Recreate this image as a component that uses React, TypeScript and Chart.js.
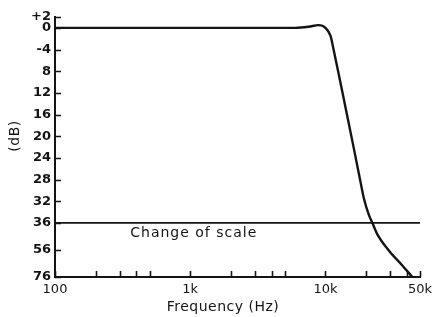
import { useEffect, useRef } from 'react';
import { Chart, registerables } from 'chart.js';

Chart.register(...registerables);

// ---- data ----
const FREQ_HZ = [100, 1000, 3000, 6000, 7500, 8900, 10000, 10900, 11500, 12900, 14550, 16400, 18150, 19200, 20900, 22200, 24200, 29500, 37000, 43900];
const ATTEN_DB = [0, 0, 0, 0, -0.2, -0.5, 0, 1.5, 4.1, 10.1, 16.5, 22.9, 28.4, 31.4, 34.5, 36, 44.5, 56.6, 67.5, 76];

const BREAK_FREQ_HZ = [100, 50000];
const BREAK_DB = [36, 36];

const Y_TICK_DB = [-2, 0, 4, 8, 12, 16, 20, 24, 28, 32, 36, 56, 76];
const Y_TICK_LABELS = ['+2', '0', '-4', '8', '12', '16', '20', '24', '28', '32', '36', '56', '76'];

const X_TICK_HZ = [100, 1000, 10000, 50000];
const X_TICK_LABELS = ['100', '1k', '10k', '50k'];
const X_MINOR_HZ = [200, 300, 400, 500, 2000, 3000, 4000, 5000, 20000, 30000, 40000];

const CHANGE_LABEL = 'Change of scale';
const CHANGE_LABEL_HZ = 360;
const CHANGE_LABEL_DB = 44;

const X_TITLE = 'Frequency (Hz)';
const Y_TITLE = '(dB)';

const BREAK_AT = 36;
const COMPRESS = 0.25; // below the break, 20 dB occupy 5 units

const INK = '#141414';
const FONT = '"DejaVu Sans", sans-serif';

function toAxis(db: number): number {
  return db <= BREAK_AT ? db : BREAK_AT + (db - BREAK_AT) * COMPRESS;
}

const decorPlugin = {
  id: 'decor',
  beforeDraw(chart: any) {
    const { ctx, width, height } = chart;
    ctx.save();
    ctx.fillStyle = '#ffffff';
    ctx.fillRect(0, 0, width, height);
    ctx.restore();
  },
  afterDraw(chart: any) {
    const { ctx, chartArea } = chart;
    const xs = chart.scales.x;
    const ys = chart.scales.y;
    ctx.save();
    ctx.strokeStyle = INK;
    ctx.lineWidth = 1.6;
    ctx.beginPath();
    for (const d of Y_TICK_DB) {
      const py = Math.round(ys.getPixelForValue(toAxis(d))) + 0.5;
      ctx.moveTo(chartArea.left, py);
      ctx.lineTo(chartArea.left + 6, py);
    }
    for (const f of [...X_TICK_HZ, ...X_MINOR_HZ]) {
      const px = Math.round(xs.getPixelForValue(f)) + 0.5;
      ctx.moveTo(px, chartArea.bottom);
      ctx.lineTo(px, chartArea.bottom - 6);
    }
    ctx.stroke();

    ctx.fillStyle = INK;
    ctx.textBaseline = 'middle';
    ctx.textAlign = 'left';
    ctx.font = `14px ${FONT}`;
    (ctx as any).letterSpacing = '1px';
    ctx.fillText(CHANGE_LABEL, xs.getPixelForValue(CHANGE_LABEL_HZ), ys.getPixelForValue(toAxis(CHANGE_LABEL_DB)));

    ctx.textAlign = 'center';
    (ctx as any).letterSpacing = '0.5px';
    ctx.fillText(X_TITLE, chartArea.left + 168, chart.height - 10);

    ctx.translate(15, chartArea.top + 119);
    ctx.rotate(-Math.PI / 2);
    ctx.fillText(Y_TITLE, 0, 0);
    ctx.restore();
  },
};

export default function App() {
  const canvasRef = useRef<HTMLCanvasElement | null>(null);

  useEffect(() => {
    const canvas = canvasRef.current;
    if (!canvas) return;
    const curve = FREQ_HZ.map((f, i) => ({ x: f, y: toAxis(ATTEN_DB[i]) }));
    const breakLine = BREAK_FREQ_HZ.map((f, i) => ({ x: f, y: toAxis(BREAK_DB[i]) }));

    const chart = new Chart(canvas, {
      type: 'line',
      data: {
        datasets: [
          {
            data: curve,
            borderColor: INK,
            borderWidth: 2.4,
            pointRadius: 0,
            cubicInterpolationMode: 'monotone',
            fill: false,
          },
          {
            data: breakLine,
            borderColor: INK,
            borderWidth: 1.6,
            pointRadius: 0,
            fill: false,
          },
        ],
      },
      plugins: [decorPlugin],
      options: {
        responsive: false,
        animation: false,
        devicePixelRatio: 1,
        layout: { padding: { top: 17, right: 19, left: 0, bottom: 0 } },
        plugins: { legend: { display: false }, tooltip: { enabled: false } },
        scales: {
          x: {
            type: 'logarithmic',
            min: 100,
            max: 50000,
            afterBuildTicks: (s: any) => {
              s.ticks = X_TICK_HZ.map((v) => ({ value: v }));
            },
            afterFit: (s: any) => {
              s.height = 40;
            },
            grid: { display: false, drawTicks: false },
            border: { display: true, color: INK, width: 2 },
            ticks: {
              autoSkip: false,
              maxRotation: 0,
              padding: 5,
              color: INK,
              font: { family: FONT, size: 13 },
              callback: (_v: any, i: number) => X_TICK_LABELS[i],
            },
          },
          y: {
            type: 'linear',
            reverse: true,
            min: toAxis(-2),
            max: toAxis(76),
            afterBuildTicks: (s: any) => {
              s.ticks = Y_TICK_DB.map((d) => ({ value: toAxis(d) }));
            },
            afterFit: (s: any) => {
              s.width = 55;
            },
            grid: { display: false, drawTicks: false },
            border: { display: true, color: INK, width: 2 },
            ticks: {
              autoSkip: false,
              padding: 4,
              color: INK,
              font: { family: FONT, size: 13, weight: 'bold' },
              callback: (_v: any, i: number) => Y_TICK_LABELS[i],
            },
          },
        },
      },
    } as any);

    return () => chart.destroy();
  }, []);

  return (
    <div style={{ position: 'fixed', left: 0, top: 0, width: 439, height: 317, background: '#fff' }}>
      <canvas ref={canvasRef} width={439} height={317} style={{ display: 'block' }} />
    </div>
  );
}
